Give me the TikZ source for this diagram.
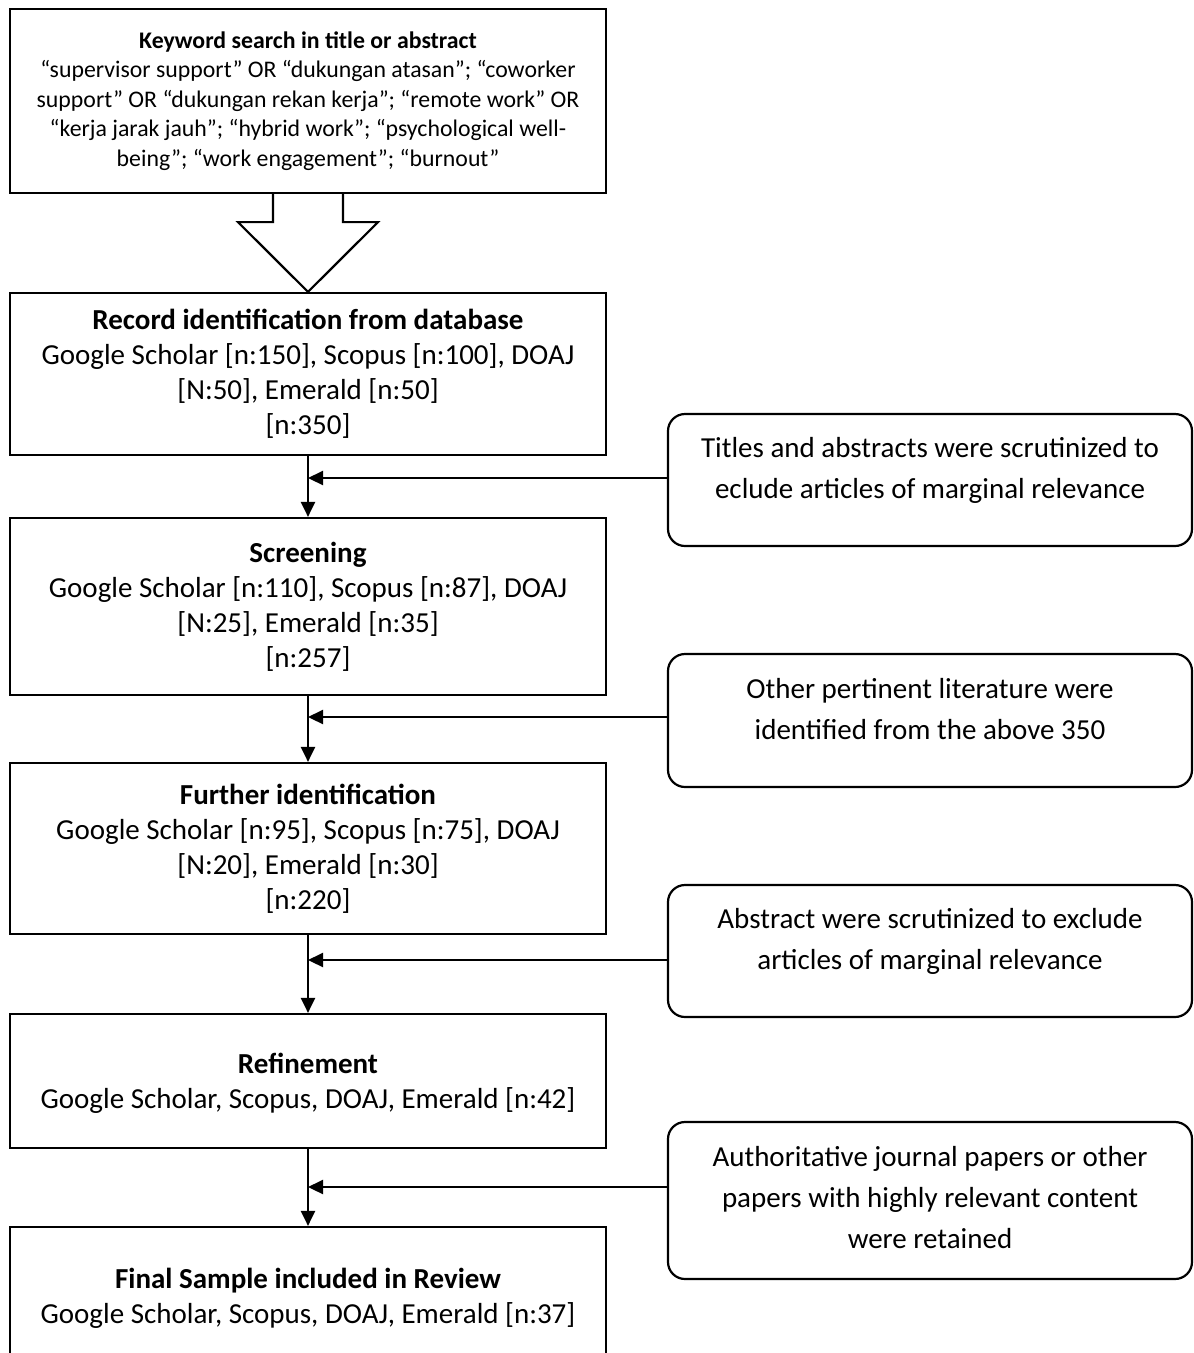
\documentclass[tikz,border=0pt]{standalone}
\usepackage{fontspec}
\setmainfont{Carlito}
\usetikzlibrary{arrows.meta,calc}
\begin{document}
\begin{tikzpicture}[x=1pt,y=-1pt,
  mainbox/.style={draw,line width=2.2pt,minimum width=596pt,align=center,inner sep=0pt,
    font=\fontsize{29}{35}\selectfont},
  sidebox/.style={draw,line width=2.2pt,rounded corners=17pt,minimum width=524pt,align=center,inner sep=0pt,
    font=\fontsize{29}{41}\selectfont},
  arr/.style={line width=2.2pt,-{Triangle[length=15pt,width=14pt]}},
  blockarrow/.style={draw,fill=white,line width=2.2pt,line join=miter}]
\useasboundingbox (0,0) rectangle (1194,1353);
\node[mainbox,minimum height=184pt,font=\fontsize{23.8}{29.5}\selectfont] (top) at (308,101)
 {\textbf{Keyword search in title or abstract}\\
  “supervisor support” OR “dukungan atasan”; “coworker\\
  support” OR “dukungan rekan kerja”; “remote work” OR\\
  “kerja jarak jauh”; “hybrid work”; “psychological well-\\
  being”; “work engagement”; “burnout”};
\node[mainbox,minimum height=162pt] (b2) at (308,374)
 {\textbf{Record identification from database}\\
  Google Scholar {[}n:150], Scopus {[}n:100], DOAJ\\
  {[}N:50], Emerald {[}n:50]\\
  {[}n:350]};
\node[mainbox,minimum height=177pt] (b3) at (308,606.5)
 {\textbf{Screening}\\
  Google Scholar {[}n:110], Scopus {[}n:87], DOAJ\\
  {[}N:25], Emerald {[}n:35]\\
  {[}n:257]};
\node[mainbox,minimum height=171pt] (b4) at (308,848.5)
 {\textbf{Further identification}\\
  Google Scholar {[}n:95], Scopus {[}n:75], DOAJ\\
  {[}N:20], Emerald {[}n:30]\\
  {[}n:220]};
\node[mainbox,minimum height=134pt,text depth=0pt] (b5) at (308,1081)
 {\textbf{Refinement}\\
  Google Scholar, Scopus, DOAJ, Emerald {[}n:42]};
\node[mainbox,minimum height=143pt] (b6) at (308,1298.5)
 {\textbf{Final Sample included in Review}\\
  Google Scholar, Scopus, DOAJ, Emerald {[}n:37]};
\node[sidebox,minimum height=132pt,text depth=24pt] (s1) at (930,480)
 {Titles and abstracts were scrutinized to\\eclude articles of marginal relevance};
\node[sidebox,minimum height=133pt,text depth=24pt] (s2) at (930,720.5)
 {Other pertinent literature were\\identified from the above 350};
\node[sidebox,minimum height=132pt,text depth=24pt] (s3) at (930,951)
 {Abstract were scrutinized to exclude\\articles of marginal relevance};
\node[sidebox,minimum height=157pt,text depth=6pt] (s4) at (930,1200.5)
 {Authoritative journal papers or other\\papers with highly relevant content\\were retained};
% block arrow
\draw[blockarrow] ($(top.south)+(-35,0)$) -- ++(0,28) -- ++(-35,0) -- (b2.north)
  -- ($(top.south)+(70,28)$) -- ++(-35,0) -- ($(top.south)+(35,0)$);
% connectors
\coordinate (j1) at (308,478);
\coordinate (j2) at (308,717);
\coordinate (j3) at (308,960);
\coordinate (j4) at (308,1187);
\draw[arr] (b2.south) -- (b3.north);
\draw[arr] (b3.south) -- (b4.north);
\draw[arr] (b4.south) -- (b5.north);
\draw[arr] (b5.south) -- (b6.north);
\draw[arr] (s1.west |- j1) -- (j1);
\draw[arr] (s2.west |- j2) -- (j2);
\draw[arr] (s3.west |- j3) -- (j3);
\draw[arr] (s4.west |- j4) -- (j4);
\end{tikzpicture}
\end{document}
